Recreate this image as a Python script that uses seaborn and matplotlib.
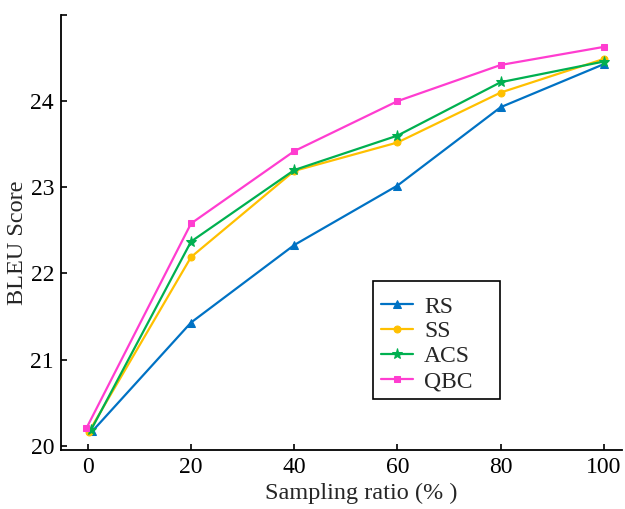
import matplotlib
matplotlib.use("Agg")
import matplotlib.pyplot as plt
from matplotlib.patches import Rectangle
import seaborn as sns
import pandas as pd

methods = ["RS", "SS", "ACS", "QBC"]
ratios = [0, 20, 40, 60, 80, 100]
first_x = {"RS": 0.9, "SS": 0.2, "ACS": 0.6, "QBC": -0.3}
rs = [20.17, 21.43, 22.33, 23.02, 23.93, 24.43]
ss = [20.16, 22.19, 23.19, 23.52, 24.10, 24.49]
acs = [20.18, 22.37, 23.20, 23.60, 24.22, 24.46]
qbc = [20.20, 22.58, 23.42, 24.00, 24.42, 24.63]
yticks = [20, 21, 22, 23, 24, 25]
ytick_labels = ["20", "21", "22", "23", "24", ""]
xticks = [0, 20, 40, 60, 80, 100]

colors = {"RS": "#0072C4", "SS": "#FFC000", "ACS": "#00B050", "QBC": "#FF3DD0"}
markers = {"RS": "^", "SS": "o", "ACS": "*", "QBC": "s"}
msizes = {"RS": 6, "SS": 5, "ACS": 8, "QBC": 5}

sns.set_theme(style="ticks")
plt.rcParams["font.family"] = ["Liberation Serif", "DejaVu Serif"]
plt.rcParams["mathtext.fontset"] = "stix"

fig = plt.figure(figsize=(6.25, 5.09), dpi=100)
ax = fig.add_axes([61 / 625, 59 / 509, 561 / 625, 435 / 509])

series = {"RS": rs, "SS": ss, "ACS": acs, "QBC": qbc}
for m in methods:
    xs = [first_x[m]] + ratios[1:]
    df = pd.DataFrame({"x": xs, "y": series[m]})
    sns.lineplot(data=df, x="x", y="y", ax=ax, color=colors[m], marker=markers[m],
                 markersize=msizes[m], markeredgecolor=colors[m], linewidth=1.6,
                 label=m)

ax.set_xlim(-5.2, 103.5)
ax.set_ylim(19.95, 25.0)
ax.set_yticks(yticks)
ax.set_yticklabels(ytick_labels)
ax.set_xticks(xticks)
ax.tick_params(direction="in", length=4, width=1.2, labelsize=17, colors="black", pad=5)
for s in ["top", "right"]:
    ax.spines[s].set_visible(False)
for s in ["left", "bottom"]:
    ax.spines[s].set_linewidth(1.3)
    ax.spines[s].set_color("black")
ax.set_xlabel("Sampling ratio (% )", fontsize=17.5)
ax.set_ylabel("BLEU Score", fontsize=17.5)
ax.xaxis.set_label_coords(0.535, -0.099)
ax.xaxis.label.set_va("center")
ax.yaxis.set_label_coords(-0.078, 0.476)
ax.yaxis.label.set_va("center")

# legend frame
ax.add_patch(Rectangle((0.556, 0.1172), 0.2264, 0.2713, transform=ax.transAxes,
                       facecolor="white", edgecolor="black", linewidth=1.2, zorder=4))
leg = ax.legend(loc="upper left", bbox_to_anchor=(0.5704, 0.354), fontsize=17,
                frameon=False, handlelength=1.36, borderpad=0, labelspacing=0.14,
                handletextpad=0.47, borderaxespad=0)
leg.set_zorder(5)

fig.savefig("out.png", dpi=100)
